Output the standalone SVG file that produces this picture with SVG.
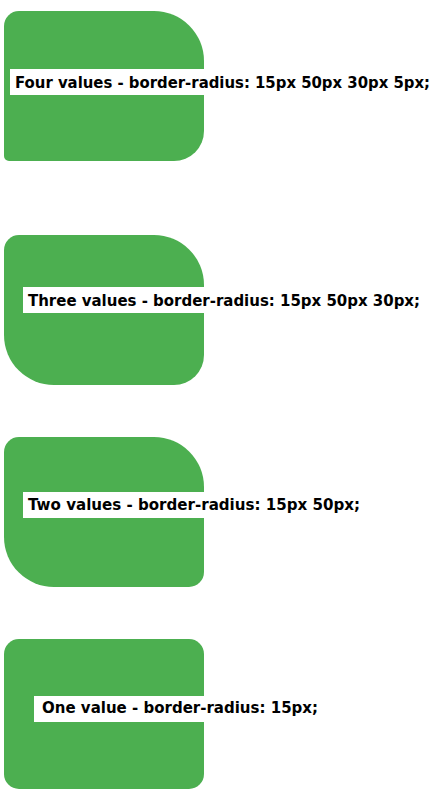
<svg xmlns="http://www.w3.org/2000/svg" width="437" height="801" viewBox="0 0 437 801">
  <style>
    .box { fill: #4caf50; }
    .bar { fill: #ffffff; }
    .lbl { font-family: "DejaVu Sans", Verdana, sans-serif; font-weight: bold; font-size: 15px; fill: #000000; }
  </style>
  <rect width="437" height="801" fill="#ffffff"/>
  <g id="four-values">
    <path class="box" d="M19,11 H154 A50,50 0 0 1 204,61 V131 A30,30 0 0 1 174,161 H9 A5,5 0 0 1 4,156 V26 A15,15 0 0 1 19,11 Z"/>
    <rect class="bar" x="10" y="69" width="194" height="26"/>
    <text class="lbl" x="15" y="88" textLength="415" lengthAdjust="spacingAndGlyphs">Four values - border-radius: 15px 50px 30px 5px;</text>
  </g>
  <g id="three-values">
    <path class="box" d="M19,235 H154 A50,50 0 0 1 204,285 V355 A30,30 0 0 1 174,385 H54 A50,50 0 0 1 4,335 V250 A15,15 0 0 1 19,235 Z"/>
    <rect class="bar" x="23" y="287" width="181" height="26"/>
    <text class="lbl" x="28" y="306" textLength="392" lengthAdjust="spacingAndGlyphs">Three values - border-radius: 15px 50px 30px;</text>
  </g>
  <g id="two-values">
    <path class="box" d="M19,437 H154 A50,50 0 0 1 204,487 V572 A15,15 0 0 1 189,587 H54 A50,50 0 0 1 4,537 V452 A15,15 0 0 1 19,437 Z"/>
    <rect class="bar" x="23" y="492" width="181" height="26"/>
    <text class="lbl" x="28" y="510" textLength="332" lengthAdjust="spacingAndGlyphs">Two values - border-radius: 15px 50px;</text>
  </g>
  <g id="one-value">
    <rect class="box" x="4" y="639" width="200" height="150" rx="15" ry="15"/>
    <rect class="bar" x="34" y="696" width="170" height="26"/>
    <text class="lbl" x="42" y="713" textLength="276" lengthAdjust="spacingAndGlyphs">One value - border-radius: 15px;</text>
  </g>
  <g id="connectors"/>
</svg>
